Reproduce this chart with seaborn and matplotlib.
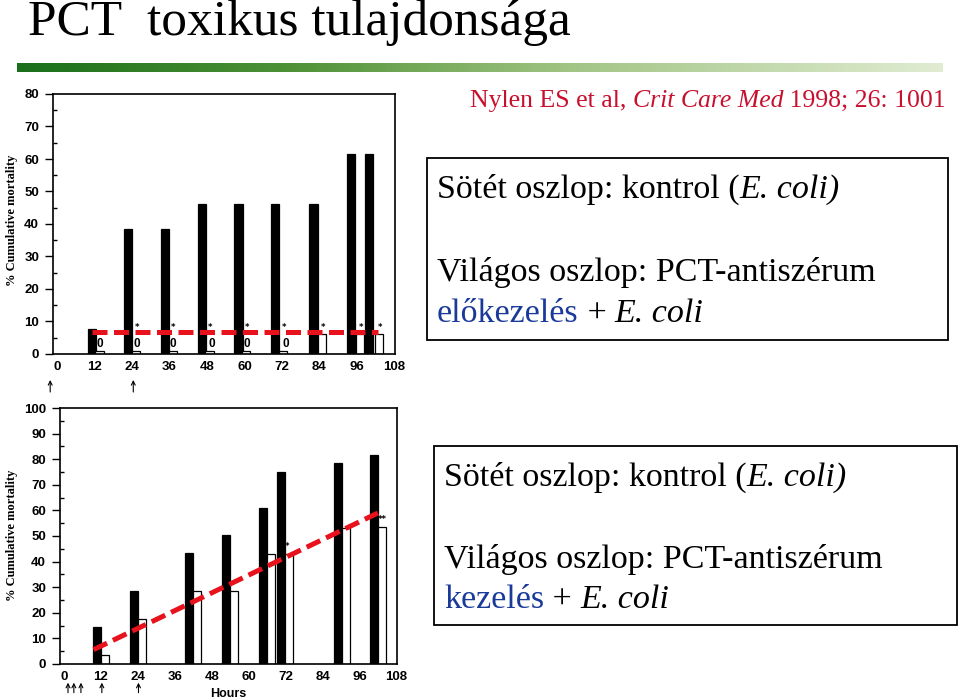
import numpy as np
import matplotlib
matplotlib.use("Agg")
from matplotlib import pyplot as plt
from matplotlib.colors import LinearSegmentedColormap
from matplotlib.patches import Rectangle
import seaborn as sns

# top panel: PCT antiserum pretreatment
top_ctrl_h = [11.2, 22.7, 34.5, 46.3, 58.1, 69.8, 82.1, 94.1, 100.0]
top_ctrl_v = [7.7, 38.5, 38.5, 46.2, 46.2, 46.2, 46.2, 61.5, 61.5]
top_pct_h = [13.6, 25.2, 37.0, 48.8, 60.6, 72.4, 84.7, 97.1, 103.2]
top_pct_v = [1, 1, 1, 1, 1, 1, 6, 6, 6]
top_zero_h = [13.8, 25.6, 37.1, 49.4, 60.9, 73.1]
top_star_h = [25.6, 37.2, 49.0, 60.9, 72.8, 85.3, 97.4, 103.5]
top_red_x = [11.1, 102.9]
top_red_y = [6.9, 6.9]
top_arrows = [-2.2, 24.4]

# bottom panel: PCT antiserum treatment
bot_ctrl_h = [10.8, 22.6, 40.6, 52.7, 64.8, 70.5, 89.0, 100.8]
bot_ctrl_v = [14.3, 28.6, 43.2, 50.4, 60.9, 74.9, 78.5, 81.8]
bot_pct_h = [13.3, 25.2, 43.2, 55.2, 67.3, 73.2, 91.5, 103.4]
bot_pct_v = [3.6, 17.7, 28.6, 28.6, 43.1, 43.1, 53.1, 53.7]
bot_stars = [(72.6, 45.8, "*"), (103.5, 56.4, "**")]
bot_red_x = [9.6, 102.0]
bot_red_y = [5.6, 59.0]
bot_arrows = [1.3, 3.2, 5.5, 12.3, 24.2]

hour_ticks = [0, 12, 24, 36, 48, 60, 72, 84, 96, 108]

sns.set_style("ticks")
plt.rcParams.update({"text.color": "black", "axes.labelcolor": "black",
                     "xtick.color": "black", "ytick.color": "black",
                     "axes.edgecolor": "black"})
W, H = 960, 700
fig = plt.figure(figsize=(9.6, 7), dpi=100)
renderer = fig.canvas.get_renderer()

RED = "#e8121c"
SERIF = "Liberation Serif"
SANS = "Liberation Sans"


def fx(x):
    return x / W


def fy(y):
    return 1 - y / H


def seg_width(s, **kw):
    t = fig.text(0, 0, "|" + s + "|", **kw)
    w1 = t.get_window_extent(renderer).width
    t.remove()
    t = fig.text(0, 0, "||", **kw)
    w0 = t.get_window_extent(renderer).width
    t.remove()
    return w1 - w0


def rich(x, y, parts, size):
    for s, color, style in parts:
        kw = dict(family=SERIF, size=size, color=color, style=style)
        fig.text(fx(x), fy(y), s, va="baseline", ha="left", **kw)
        x += seg_width(s, **kw)


def panel(rect, ctrl_h, ctrl_v, pct_h, pct_v, ymax, red_x, red_y, arrows, tip, tail):
    ax = fig.add_axes(rect)
    bw = 2.6
    for h, v, fc in ((ctrl_h, ctrl_v, "black"), (pct_h, pct_v, "white")):
        w = bw / np.min(np.diff(sorted(h)))
        sns.barplot(x=h, y=v, native_scale=True, orient="x", width=w, color=fc,
                    edgecolor="black", linewidth=0.9, saturation=1,
                    errorbar=None, ax=ax)
    sns.lineplot(x=red_x, y=red_y, color=RED, linewidth=3.6,
                 linestyle=(0, (3, 1.3)), ax=ax)
    ax.set_xlim(-1.3, 108.2)
    ax.set_ylim(0, ymax)
    ax.set_xticks(hour_ticks)
    ax.set_xticklabels([str(t) for t in hour_ticks])
    ax.set_yticks(np.arange(0, ymax + 1, 10))
    ax.set_yticks(np.arange(5, ymax, 10), minor=True)
    ax.tick_params(axis="x", length=0, pad=5, labelsize=9.5)
    ax.tick_params(axis="y", which="major", direction="out", length=6, width=1, pad=4, labelsize=9.5)
    ax.tick_params(axis="y", which="minor", direction="in", length=3, width=1)
    for lbl in ax.get_xticklabels() + ax.get_yticklabels():
        lbl.set_fontweight("bold")
        lbl.set_family(SANS)
    for sp in ax.spines.values():
        sp.set_visible(True)
        sp.set_linewidth(1.2)
        sp.set_color("black")
    ax.set_xlabel("")
    ax.set_ylabel("")
    ax.set_facecolor("white")
    for h in arrows:
        ax.annotate("", xy=(h, tip), xytext=(h, tail),
                    arrowprops=dict(arrowstyle="->", lw=0.8, color="black",
                                    shrinkA=0, shrinkB=0, mutation_scale=7),
                    annotation_clip=False)
    return ax


# title and decoration
fig.text(fx(28), fy(35), "PCT  toxikus tulajdonsága", family=SERIF, size=37,
         va="baseline", color="black")
gax = fig.add_axes([fx(17), fy(72), fx(926), 9 / H])
cmap = LinearSegmentedColormap.from_list(
    "grn", [(0, "#1a6f1a"), (0.3, "#4f9237"), (0.6, "#a2c585"), (1, "#e0ecd2")])
gax.imshow(np.linspace(0, 1, 256)[None, :], aspect="auto", cmap=cmap)
gax.axis("off")

# top chart
ax1 = panel([fx(53), fy(354), fx(342), 260 / H], top_ctrl_h, top_ctrl_v,
            top_pct_h, top_pct_v, 80, top_red_x, top_red_y, top_arrows, -8.0, -11.7)
for h in top_zero_h:
    ax1.text(h, 3.1, "0", ha="center", va="center", fontsize=8.5, family=SANS, fontweight="bold")
for h in top_star_h:
    ax1.text(h, 8.3, "*", ha="center", va="center", fontsize=6, fontweight="bold")

# bottom chart
ax2 = panel([fx(60), fy(664), fx(337), 256 / H], bot_ctrl_h, bot_ctrl_v,
            bot_pct_h, bot_pct_v, 100, bot_red_x, bot_red_y, bot_arrows, -7.3, -11.2)
for h, v, s in bot_stars:
    ax2.text(h, v, s, ha="center", va="center", fontsize=6, fontweight="bold")
ax2.text(0.5, -0.117, "Hours", transform=ax2.transAxes, ha="center", va="center",
         fontsize=9, family=SANS, fontweight="bold")

for yc in (220, 535):
    fig.text(fx(12), fy(yc), "% Cumulative mortality", rotation=90, family=SERIF,
             weight="bold", size=9, ha="center", va="center")

# citation and legend boxes
CRED = "#c8102e"
BLUE = "#1a3a9a"
rich(470, 107, [("Nylen ES et al, ", CRED, "normal"), ("Crit Care Med", CRED, "italic"),
                (" 1998; 26: 1001", CRED, "normal")], 18.5)

for (x0, y0, x1, y1), base, first in (((427, 158, 948, 340), (198, 281, 322), "előkezelés"),
                                      ((434, 446, 957, 625), (486, 568, 608), "kezelés")):
    fig.add_artist(Rectangle((fx(x0), fy(y1)), fx(x1 - x0), (y1 - y0) / H,
                             transform=fig.transFigure, fill=False, lw=1.3, ec="black"))
    tx = x0 + 10
    rich(tx, base[0], [("Sötét oszlop: kontrol (", "black", "normal"), ("E. coli)", "black", "italic")], 24.5)
    rich(tx, base[1], [("Világos oszlop: PCT-antiszérum", "black", "normal")], 24.5)
    rich(tx, base[2], [(first, BLUE, "normal"), (" + ", "black", "normal"), ("E. coli", "black", "italic")], 24.5)

fig.savefig("out.png", dpi=100)
